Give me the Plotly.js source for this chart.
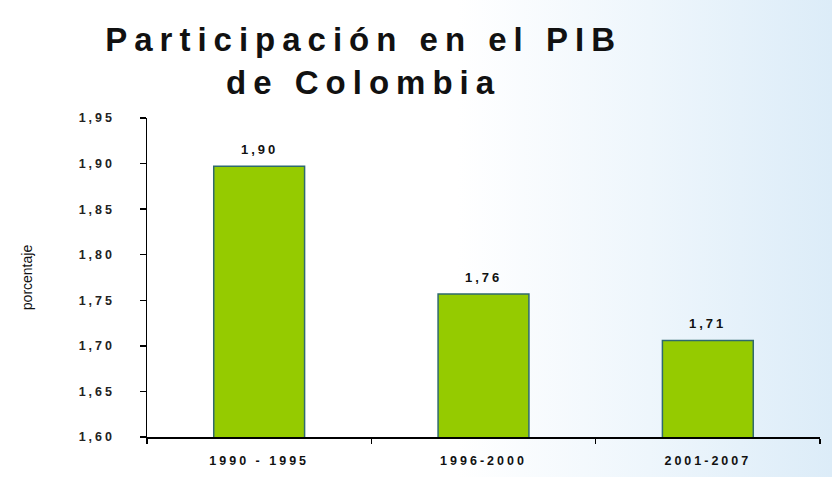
<!DOCTYPE html>
<html>
<head>
<meta charset="utf-8">
<script src="https://cdn.plot.ly/plotly-3.0.1.min.js"></script>
<style>
  html, body { margin: 0; padding: 0; }
  #chart {
    width: 832px; height: 477px;
    background: linear-gradient(to right, #ffffff 0%, #ffffff 55%, #eef6fc 78%, #dcecf8 100%);
  }
  #chart .xtick text, #chart .ytick text, #chart .annotation-text { letter-spacing: 3px; }
  #chart .gtitle { letter-spacing: 7px; }
</style>
</head>
<body>
<div id="chart"></div>
<script>
const categories = ["1990 - 1995", "1996-2000", "2001-2007"];
const values = [1.897, 1.757, 1.706];
const yTicks = [1.60, 1.65, 1.70, 1.75, 1.80, 1.85, 1.90, 1.95];

const trace = {
  type: "bar",
  x: categories,
  y: values,
  width: 0.405,
  marker: { color: "#95cb00", line: { color: "#2f6a6e", width: 1.5 } },
  hoverinfo: "skip"
};

const labelFont = { family: "Liberation Sans, Arial, sans-serif", size: 13, weight: "bold", color: "#111" };
const annotations = categories.map((c, i) => ({
  x: c, y: values[i], xref: "x", yref: "y",
  text: values[i].toFixed(2).replace(".", ","),
  showarrow: false, yanchor: "bottom", yshift: 7,
  font: labelFont
}));

const layout = {
  width: 832, height: 477,
  paper_bgcolor: "rgba(0,0,0,0)",
  plot_bgcolor: "rgba(0,0,0,0)",
  separators: ", ",
  margin: { l: 147, r: 12, t: 118, b: 40 },
  showlegend: false,
  annotations: annotations,
  title: {
    text: "Participación en el PIB<br>de Colombia",
    font: { family: "Liberation Sans, Arial, sans-serif", size: 33, weight: "bold", color: "#111" },
    x: 0.437, xanchor: "center",
    y: 0.893, yanchor: "top"
  },
  xaxis: {
    type: "category",
    showline: true, linecolor: "#000", linewidth: 1.5,
    ticks: "outside", ticklen: 5, tickcolor: "#000", tickwidth: 1.5,
    tickson: "boundaries",
    showgrid: false, zeroline: false,
    tickfont: { family: "Liberation Sans, Arial, sans-serif", size: 12.5, weight: "bold", color: "#111" },
    ticklabelstandoff: 11
  },
  yaxis: {
    range: [1.60, 1.95],
    tickvals: yTicks,
    tickformat: ".2f",
    showline: true, linecolor: "#000", linewidth: 1.5,
    ticks: "outside", ticklen: 6, tickcolor: "#000", tickwidth: 1.5,
    showgrid: false, zeroline: false,
    tickfont: { family: "Liberation Sans, Arial, sans-serif", size: 12.5, weight: "bold", color: "#222" },
    ticklabelstandoff: 22,
    title: {
      text: "porcentaje",
      standoff: 55,
      font: { family: "Liberation Sans Narrow, Liberation Sans, Arial, sans-serif", size: 14, color: "#111" }
    }
  }
};

Plotly.newPlot("chart", [trace], layout, { displayModeBar: false, staticPlot: true });
</script>
</body>
</html>
